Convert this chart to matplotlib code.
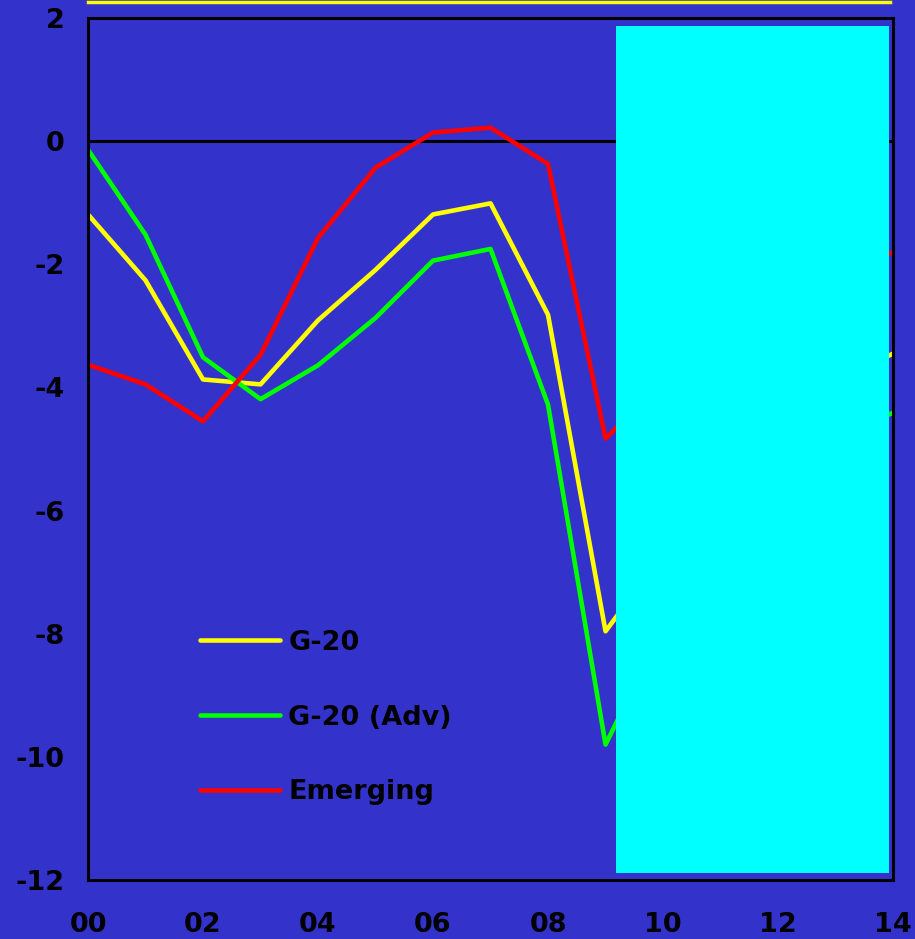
import numpy as np
import matplotlib
matplotlib.use("Agg")
import matplotlib.pyplot as plt
from matplotlib.lines import Line2D
from matplotlib.patches import Rectangle

# donnees (annees 2000-2014)
annees = np.arange(0, 15)
etiquettes_x = ["00", "02", "04", "06", "08", "10", "12", "14"]
g20 = [-1.19, -2.26, -3.87, -3.95, -2.91, -2.09, -1.19, -1.01, -2.82, -7.96,
       -6.7, -5.5, -4.6, -3.9, -3.45]
g20_adv = [-0.14, -1.52, -3.51, -4.19, -3.64, -2.87, -1.94, -1.75, -4.28, -9.80,
           -7.9, -6.6, -5.5, -4.8, -4.41]
emerging = [-3.63, -3.95, -4.55, -3.47, -1.57, -0.43, 0.14, 0.22, -0.37, -4.83,
            -3.9, -3.0, -2.4, -2.0, -1.81]

fond = "#3333CC"
plt.rcParams["font.family"] = ["DejaVu Sans"]
plt.rcParams["font.weight"] = "bold"
plt.rcParams["axes.unicode_minus"] = False

fig = plt.figure(figsize=(9.15, 9.39), dpi=100, facecolor=fond)
ax = fig.add_axes([0.0962, 0.0628, 0.8798, 0.918])
ax.set_facecolor(fond)

ax.axhline(0, color="black", lw=2.2, zorder=1)
ax.plot(annees, g20, color="#FFFF00", lw=3.3, label="G-20", zorder=2, solid_capstyle="round")
ax.plot(annees, g20_adv, color="#00FF00", lw=3.3, label="G-20 (Adv)", zorder=2, solid_capstyle="round")
ax.plot(annees, emerging, color="#FF0000", lw=3.3, label="Emerging", zorder=2, solid_capstyle="round")

# rectangle cyan qui masque les projections
ax.add_patch(Rectangle((9.18, -11.88), 4.75, 13.75, facecolor="#00FFFF",
                       edgecolor="none", zorder=3))

ax.set_xlim(0, 14)
ax.set_ylim(-12, 2)
ax.set_xticks(np.arange(0, 15, 2))
ax.set_xticklabels(etiquettes_x)
ax.set_yticks(np.arange(-12, 3, 2))
ax.tick_params(axis="both", length=0, labelsize=19.5, colors="black")
ax.tick_params(axis="y", pad=17)
ax.tick_params(axis="x", pad=23)
for sp in ax.spines.values():
    sp.set_linewidth(2.2)
    sp.set_color("black")
    sp.set_zorder(4)

leg = ax.legend(loc="upper left", bbox_to_anchor=(0.1226, 0.306), frameon=False,
                handlelength=2.95, handletextpad=0.3, labelspacing=1.8,
                borderpad=0, prop={"size": 19.5, "weight": "bold"})
for t in leg.get_texts():
    t.set_color("black")

# ligne jaune en haut
fig.add_artist(Line2D([88 / 915, 890 / 915], [1 - 1.5 / 939, 1 - 1.5 / 939],
                      color="#FFFF00", lw=2.5, transform=fig.transFigure))

fig.savefig("out.png", dpi=100, facecolor=fond)
